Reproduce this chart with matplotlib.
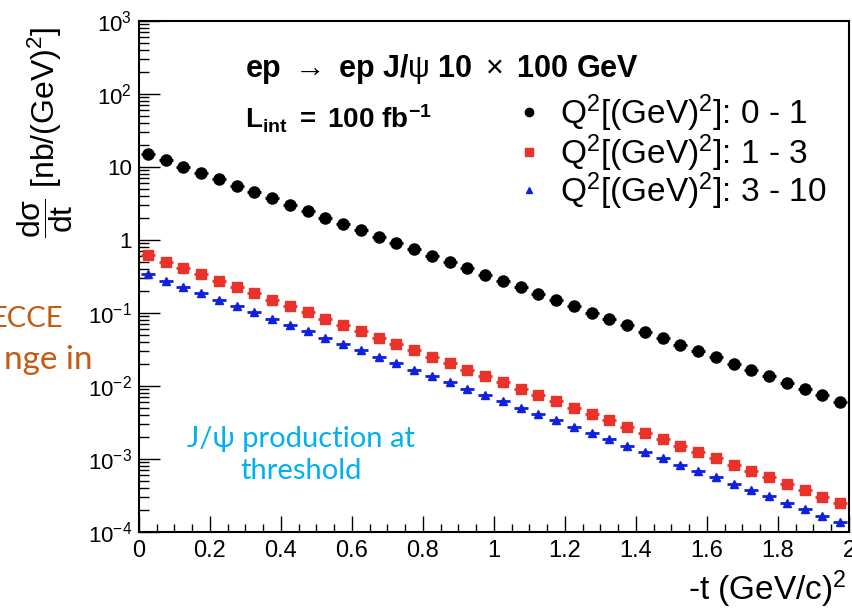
import math
import matplotlib
matplotlib.use("Agg")
import matplotlib.pyplot as plt
from matplotlib.ticker import LogLocator, FixedLocator, MultipleLocator, FuncFormatter, NullFormatter

plt.rcParams['font.family'] = ['Liberation Sans', 'DejaVu Sans']
plt.rcParams['mathtext.fontset'] = 'custom'
plt.rcParams['mathtext.rm'] = 'Liberation Sans'
plt.rcParams['mathtext.it'] = 'Liberation Sans:italic'
plt.rcParams['mathtext.bf'] = 'Liberation Sans:bold'

# -t bin centres (GeV/c)^2
t_centers = [0.025, 0.075, 0.125, 0.175, 0.225, 0.275, 0.325, 0.375, 0.425, 0.475,
             0.525, 0.575, 0.625, 0.675, 0.725, 0.775, 0.825, 0.875, 0.925, 0.975,
             1.025, 1.075, 1.125, 1.175, 1.225, 1.275, 1.325, 1.375, 1.425, 1.475,
             1.525, 1.575, 1.625, 1.675, 1.725, 1.775, 1.825, 1.875, 1.925, 1.975]

# dsigma/dt [nb/(GeV)^2]
q2_0_1 = [15.07, 12.33, 10.09, 8.26, 6.76, 5.53, 4.53, 3.71, 3.03, 2.48,
          2.03, 1.66, 1.36, 1.11, 0.912, 0.746, 0.611, 0.500, 0.409, 0.335,
          0.274, 0.224, 0.184, 0.150, 0.123, 0.101, 0.0824, 0.0675, 0.0552, 0.0452,
          0.0370, 0.0303, 0.0248, 0.0203, 0.0166, 0.0136, 0.0111, 0.00910, 0.00745, 0.00610]
q2_1_3 = [0.620, 0.507, 0.415, 0.340, 0.278, 0.228, 0.186, 0.153, 0.125, 0.102,
          0.0835, 0.0683, 0.0560, 0.0457, 0.0375, 0.0307, 0.0251, 0.0206, 0.0168, 0.0138,
          0.0113, 0.00922, 0.00757, 0.00617, 0.00506, 0.00416, 0.00339, 0.00278, 0.00227, 0.00186,
          0.00152, 0.00125, 0.00102, 0.000835, 0.000683, 0.000560, 0.000457, 0.000374, 0.000306, 0.000251]
q2_3_10 = [0.340, 0.278, 0.228, 0.186, 0.153, 0.125, 0.102, 0.0837, 0.0684, 0.0559,
           0.0458, 0.0374, 0.0307, 0.0250, 0.0206, 0.0168, 0.0138, 0.0113, 0.00923, 0.00756,
           0.00618, 0.00505, 0.00415, 0.00338, 0.00277, 0.00228, 0.00186, 0.00152, 0.00125, 0.00102,
           0.000835, 0.000684, 0.000560, 0.000458, 0.000374, 0.000307, 0.000250, 0.000205, 0.000168, 0.000138]

series_labels = [r'Q$^2$[(GeV)$^2$]: 0 - 1', r'Q$^2$[(GeV)$^2$]: 1 - 3', r'Q$^2$[(GeV)$^2$]: 3 - 10']
x_ticks = [0, 0.2, 0.4, 0.6, 0.8, 1, 1.2, 1.4, 1.6, 1.8, 2]
x_tick_labels = ['0', '0.2', '0.4', '0.6', '0.8', '1', '1.2', '1.4', '1.6', '1.8', '2']

fig = plt.figure(figsize=(8.53, 6.09), dpi=100)
ax = fig.add_axes([139/853, 1 - 532/609, (849 - 139)/853, (532 - 21)/609])

half_bin = 0.02
styles = [
    dict(color='black', marker='o', ms=8, lms=6),
    dict(color='#e8322a', marker='s', ms=7.5, lms=6),
    dict(color='#1020e0', marker='^', ms=6, lms=5),
]
for ys, st in zip([q2_0_1, q2_1_3, q2_3_10], styles):
    ax.errorbar(t_centers, ys, xerr=half_bin, fmt=st['marker'], color=st['color'],
                ms=st['ms'], mec=st['color'], elinewidth=2.0, capsize=0, zorder=3)

ax.set_yscale('log')
ax.set_xlim(0, 2)
ax.set_ylim(1e-4, 1e3)

def yfmt(v, pos):
    e = int(round(math.log10(v)))
    if e == 0:
        return '1'
    if e == 1:
        return '10'
    return r'$10^{%d}$' % e

ax.yaxis.set_major_locator(LogLocator(base=10, numticks=20))
ax.yaxis.set_major_formatter(FuncFormatter(yfmt))
ax.yaxis.set_minor_locator(LogLocator(base=10, subs=range(2, 10), numticks=20))
ax.yaxis.set_minor_formatter(NullFormatter())
ax.xaxis.set_major_locator(FixedLocator(x_ticks))
ax.set_xticklabels(x_tick_labels)
ax.xaxis.set_minor_locator(MultipleLocator(0.05))

ax.tick_params(axis='y', which='major', direction='in', length=15, width=1.0, labelsize=16, pad=5)
ax.tick_params(axis='y', which='minor', direction='in', length=7, width=1.0)
ax.tick_params(axis='x', which='major', direction='in', length=11.5, width=1.0, labelsize=17, pad=6)
ax.tick_params(axis='x', which='minor', direction='in', length=6, width=1.0)
for s in ax.spines.values():
    s.set_linewidth(1.5)

# header texts
ax.text(0.149, 0.890,
        r'$\mathbf{ep}\ \rightarrow\ \mathbf{ep\ J/}\mathrm{\psi}\ \mathbf{10}\ \times\ \mathbf{100\ GeV}$',
        transform=ax.transAxes, fontsize=22, va='baseline', ha='left')
ax.text(0.149, 0.790, r'$\mathbf{L_{int}\ =\ 100\ fb^{-1}}$', transform=ax.transAxes,
        fontsize=20, va='baseline', ha='left')

# legend (manual, ROOT-like)
leg_marker_y = [0.822, 0.744, 0.670]
leg_text_y = [0.798, 0.720, 0.646]
for st, lab, my, ty in zip(styles, series_labels, leg_marker_y, leg_text_y):
    ax.plot([0.549], [my], transform=ax.transAxes, marker=st['marker'], color=st['color'],
            ms=st['lms'], linestyle='none', clip_on=False)
    ax.text(0.593, ty, lab, transform=ax.transAxes, fontsize=24, va='baseline', ha='left')

fig.text(45/853, 1 - 132/609, r'$\dfrac{\mathrm{d\sigma}}{\mathrm{dt}}$ [nb/(GeV)$^2$]',
         rotation=90, fontsize=23, ha='center', va='center')
fig.text(847/853, 1 - 600/609, r'-t (GeV/c)$^2$', fontsize=24, ha='right', va='baseline')

fig.text(63/853, 1 - 319/609, 'ECCE', color='#c55a11', fontsize=21, family='Lato',
         ha='right', va='center')
fig.text(93/853, 1 - 360/609, 'nge in', color='#c55a11', fontsize=24, family='Lato',
         ha='right', va='center')
fig.text(301/853, 1 - 455/609, 'J/\u03c8 production at\nthreshold', color='#00b0f0',
         fontsize=21, family=['Lato', 'DejaVu Sans'], ha='center', va='center', linespacing=1.3)

fig.savefig('out.png', dpi=100)
